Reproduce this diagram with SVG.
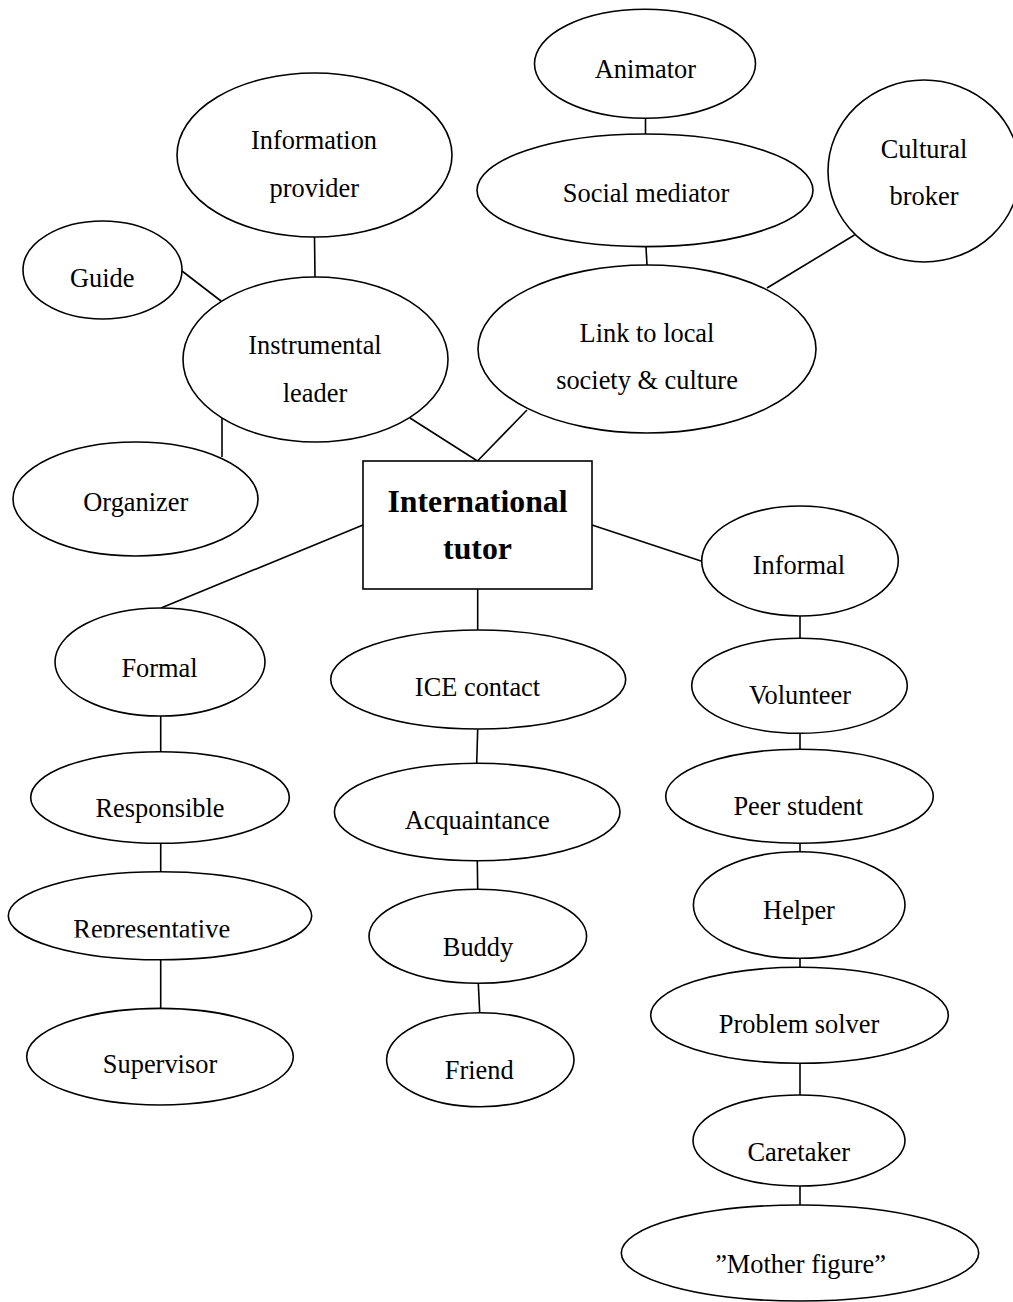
<svg xmlns="http://www.w3.org/2000/svg" width="1013" height="1302" viewBox="0 0 1013 1302">
  <style>
    .n { fill: #fff; stroke: #000; stroke-width: 1.6; }
    .c line { stroke: #000; stroke-width: 1.6; }
    text { font-family: "Liberation Serif", "Times New Roman", serif; font-size: 26.4px; fill: #000; text-anchor: middle; }
    .b { font-weight: bold; font-size: 31.8px; }
  </style>
  <defs>
    <clipPath id="repClip"><rect x="0" y="900" width="340" height="37.5"/></clipPath>
  </defs>
  <rect width="1013" height="1302" fill="#fff"/>

  <g id="connectors" class="c">
    <line x1="314.5" y1="237" x2="315" y2="277"/>
    <line x1="182" y1="271" x2="221" y2="301"/>
    <line x1="222" y1="417" x2="222" y2="457"/>
    <line x1="410" y1="418" x2="477.5" y2="461"/>
    <line x1="645.5" y1="118" x2="645.5" y2="134"/>
    <line x1="646" y1="247" x2="647" y2="265"/>
    <line x1="767" y1="288" x2="854.5" y2="235"/>
    <line x1="527" y1="410" x2="477.5" y2="461"/>
    <line x1="363" y1="525" x2="161" y2="608"/>
    <line x1="477.7" y1="589" x2="477.7" y2="630"/>
    <line x1="477.7" y1="729" x2="476.7" y2="763.3"/>
    <line x1="477.3" y1="860.7" x2="477.7" y2="889.3"/>
    <line x1="478.3" y1="983.3" x2="479.7" y2="1012.7"/>
    <line x1="160.7" y1="716" x2="160.7" y2="751.7"/>
    <line x1="160.7" y1="843.3" x2="160.7" y2="871.7"/>
    <line x1="160.7" y1="960" x2="160.7" y2="1008.3"/>
    <line x1="592" y1="525" x2="701" y2="561"/>
    <line x1="800" y1="616" x2="800" y2="638.3"/>
    <line x1="800" y1="733.3" x2="800" y2="749.3"/>
    <line x1="800" y1="843.3" x2="800" y2="851.7"/>
    <line x1="800" y1="958.3" x2="800" y2="967.3"/>
    <line x1="800" y1="1063.3" x2="800" y2="1095"/>
    <line x1="800" y1="1186" x2="800" y2="1205"/>
  </g>

  <!-- centre -->
  <g id="international-tutor">
    <rect class="n" x="363" y="461" width="229" height="128"/>
    <text class="b" x="477.5" y="512">International</text>
    <text class="b" x="477.5" y="559">tutor</text>
  </g>

  <!-- instrumental branch -->
  <g id="information-provider">
    <ellipse class="n" cx="314.5" cy="155" rx="137.5" ry="82"/>
    <text x="314" y="149.3">Information</text>
    <text x="314.3" y="196.7">provider</text>
  </g>
  <g id="guide">
    <ellipse class="n" cx="102.5" cy="270" rx="79.5" ry="49"/>
    <text x="102.2" y="287">Guide</text>
  </g>
  <g id="instrumental-leader">
    <ellipse class="n" cx="315.5" cy="359.5" rx="132.5" ry="82.5"/>
    <text x="315" y="354">Instrumental</text>
    <text x="315" y="401.7">leader</text>
  </g>
  <g id="organizer">
    <ellipse class="n" cx="135.5" cy="499" rx="122.5" ry="57"/>
    <text x="135.8" y="510.7">Organizer</text>
  </g>

  <!-- local society branch -->
  <g id="animator">
    <ellipse class="n" cx="645" cy="63.8" rx="110.5" ry="54.5"/>
    <text x="645.4" y="78">Animator</text>
  </g>
  <g id="social-mediator">
    <ellipse class="n" cx="645" cy="190.3" rx="168" ry="56.3"/>
    <text x="646" y="201.7">Social mediator</text>
  </g>
  <g id="link-to-local">
    <ellipse class="n" cx="647" cy="349" rx="169" ry="84"/>
    <text x="647" y="341.7">Link to local</text>
    <text x="647" y="389.3">society &amp; culture</text>
  </g>
  <g id="cultural-broker">
    <ellipse class="n" cx="924" cy="171" rx="96" ry="91"/>
    <text x="924" y="158.3">Cultural</text>
    <text x="924" y="205">broker</text>
  </g>

  <!-- formal column -->
  <g id="formal">
    <ellipse class="n" cx="160" cy="662" rx="105" ry="54"/>
    <text x="159.5" y="676.7">Formal</text>
  </g>
  <g id="responsible">
    <ellipse class="n" cx="160" cy="797.5" rx="129.3" ry="45.8"/>
    <text x="160" y="816.7">Responsible</text>
  </g>
  <g id="representative">
    <ellipse class="n" cx="160" cy="915.8" rx="151.7" ry="44"/>
    <text x="151.7" y="937.5" clip-path="url(#repClip)">Representative</text>
  </g>
  <g id="supervisor">
    <ellipse class="n" cx="160" cy="1056.7" rx="133.3" ry="48.3"/>
    <text x="160" y="1073.3">Supervisor</text>
  </g>

  <!-- middle column -->
  <g id="ice-contact">
    <ellipse class="n" cx="478.2" cy="679.5" rx="147.5" ry="49.5"/>
    <text x="477.5" y="696">ICE contact</text>
  </g>
  <g id="acquaintance">
    <ellipse class="n" cx="477.2" cy="812" rx="142.8" ry="48.7"/>
    <text x="477.2" y="829.3">Acquaintance</text>
  </g>
  <g id="buddy">
    <ellipse class="n" cx="477.8" cy="936.3" rx="108.8" ry="47"/>
    <text x="478" y="955.7">Buddy</text>
  </g>
  <g id="friend">
    <ellipse class="n" cx="480.3" cy="1059.7" rx="93.7" ry="47"/>
    <text x="479.2" y="1079.3">Friend</text>
  </g>

  <!-- informal column -->
  <g id="informal">
    <ellipse class="n" cx="800" cy="561" rx="98.3" ry="55"/>
    <text x="799" y="574">Informal</text>
  </g>
  <g id="volunteer">
    <ellipse class="n" cx="799.5" cy="685.8" rx="107.8" ry="47.5"/>
    <text x="800" y="704">Volunteer</text>
  </g>
  <g id="peer-student">
    <ellipse class="n" cx="799.5" cy="796.3" rx="133.8" ry="47"/>
    <text x="798.3" y="815">Peer student</text>
  </g>
  <g id="helper">
    <ellipse class="n" cx="799.2" cy="905" rx="105.8" ry="53.3"/>
    <text x="799" y="919.3">Helper</text>
  </g>
  <g id="problem-solver">
    <ellipse class="n" cx="799.5" cy="1015.3" rx="148.8" ry="48"/>
    <text x="799" y="1033.3">Problem solver</text>
  </g>
  <g id="caretaker">
    <ellipse class="n" cx="799" cy="1140.5" rx="106" ry="45.5"/>
    <text x="798.8" y="1161">Caretaker</text>
  </g>
  <g id="mother-figure">
    <ellipse class="n" cx="800" cy="1253" rx="178.7" ry="48"/>
    <text x="800.5" y="1272.7">”Mother figure”</text>
  </g>
</svg>
